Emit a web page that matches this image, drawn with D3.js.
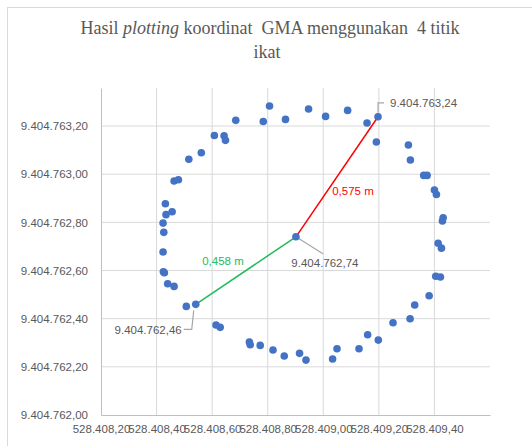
<!DOCTYPE html>
<html>
<head>
<meta charset="utf-8">
<script src="https://cdn.jsdelivr.net/npm/d3@7"></script>
<style>
  body { margin: 0; background: #fff; }
</style>
</head>
<body>
<div id="chart"></div>
<script>
// easting / northing of the measured points (UTM, metres)
var eastings = [
  528408.8065, 528408.685, 528408.784, 528408.608, 528408.643, 528408.648,
  528408.561, 528408.516, 528408.463, 528408.4786, 528408.4317, 528408.434,
  528408.456, 528408.4234, 528408.426, 528408.4234, 528408.4245, 528408.428,
  528408.440, 528408.463, 528408.507, 528408.541, 528408.614, 528408.629,
  528408.734, 528408.737, 528408.773, 528408.819, 528408.8595, 528408.9146,
  528408.9377, 528409.0335, 528409.0494, 528409.1286, 528409.1597, 528409.198,
  528409.251, 528409.3124, 528409.329, 528409.381, 528409.4047, 528409.4216,
  528409.4133, 528409.4252, 528409.4314, 528409.4288, 528409.400, 528409.4072,
  528409.3614, 528409.3737, 528409.3135, 528409.3063, 528409.191, 528409.197,
  528409.1575, 528409.0876, 528409.0083, 528408.947, 528408.864, 528408.9016
]
var northings = [
  9404763.283, 9404763.2236, 9404763.219, 9404763.161, 9404763.160, 9404763.1405,
  9404763.089, 9404763.062, 9404762.9716, 9404762.977, 9404762.877, 9404762.832,
  9404762.844, 9404762.797, 9404762.7586, 9404762.677, 9404762.595, 9404762.591,
  9404762.545, 9404762.534, 9404762.451, 9404762.4596, 9404762.3737, 9404762.364,
  9404762.303, 9404762.292, 9404762.289, 9404762.270, 9404762.245, 9404762.256,
  9404762.228, 9404762.2325, 9404762.275, 9404762.275, 9404762.333, 9404762.311,
  9404762.383, 9404762.400, 9404762.4567, 9404762.495, 9404762.576, 9404762.573,
  9404762.713, 9404762.693, 9404762.819, 9404762.8055, 9404762.934, 9404762.916,
  9404762.995, 9404762.995, 9404763.0588, 9404763.121, 9404763.1335, 9404763.2385,
  9404763.2124, 9404763.265, 9404763.240, 9404763.2705, 9404763.2277, 9404762.740
]

// centre point and the two radius segments
var centre = [528408.9016, 9404762.740]
var farPoint = [528409.197, 9404763.2385]
var nearPoint = [528408.541, 9404762.4596]
var segLabels = ["0,575 m", "0,458 m"]

var xTicks = [528408.2, 528408.4, 528408.6, 528408.8, 528409.0, 528409.2, 528409.4]
var yTicks = [9404762.0, 9404762.2, 9404762.4, 9404762.6, 9404762.8, 9404763.0, 9404763.2]

var idLocale = d3.formatLocale({ decimal: ",", thousands: ".", grouping: [3], currency: ["", ""] })
var fmt = idLocale.format(",.2f")

var width = 532, height = 446
var margin = { top: 88, right: 42, bottom: 31, left: 101 }

var svg = d3.select("#chart").append("svg")
  .attr("width", width)
  .attr("height", height)

// chart border (only left and top edges fall inside the picture)
svg.append("rect")
  .attr("x", 7.5).attr("y", 7.5)
  .attr("width", width).attr("height", height)
  .attr("fill", "none")
  .attr("stroke", "#d9d9d9")

var x = d3.scaleLinear()
  .domain([528408.2, 528409.6])
  .range([margin.left, width - margin.right])

var y = d3.scaleLinear()
  .domain([9404762.0, 9404763.358])
  .range([height - margin.bottom, margin.top])

// gridlines
svg.append("g")
  .selectAll("line")
  .data(xTicks.slice(1))
  .enter().append("line")
  .attr("x1", d => x(d)).attr("x2", d => x(d))
  .attr("y1", y.range()[1]).attr("y2", y.range()[0])
  .attr("stroke", "#d9d9d9")

svg.append("g")
  .selectAll("line")
  .data(yTicks.slice(1))
  .enter().append("line")
  .attr("x1", x.range()[0]).attr("x2", x.range()[1])
  .attr("y1", d => y(d)).attr("y2", d => y(d))
  .attr("stroke", "#d9d9d9")

var xAxis = svg.append("g")
  .attr("transform", `translate(0,${y.range()[0]})`)
  .call(d3.axisBottom(x).tickValues(xTicks).tickFormat(fmt).tickSize(0).tickPadding(10))

var yAxis = svg.append("g")
  .attr("transform", `translate(${x.range()[0]},0)`)
  .call(d3.axisLeft(y).tickValues(yTicks).tickFormat(fmt).tickSize(0).tickPadding(13))

svg.selectAll(".domain").attr("stroke", "#bfbfbf")
svg.selectAll(".tick text")
  .style("font-family", "'Liberation Sans', Arial, sans-serif")
  .style("font-size", "11.5px")
  .attr("fill", "#595959")

// radius lines
svg.append("line")
  .attr("x1", x(centre[0])).attr("y1", y(centre[1]))
  .attr("x2", x(farPoint[0])).attr("y2", y(farPoint[1]))
  .attr("stroke", "#ff0000")
  .attr("stroke-width", 1.5)

svg.append("line")
  .attr("x1", x(centre[0])).attr("y1", y(centre[1]))
  .attr("x2", x(nearPoint[0])).attr("y2", y(nearPoint[1]))
  .attr("stroke", "#1fba5e")
  .attr("stroke-width", 1.5)

// leader lines for the data labels
var leader = d3.line()
var leaders = [
  [[x(farPoint[0]), y(farPoint[1]) - 4], [x(farPoint[0]), y(farPoint[1]) - 14], [x(farPoint[0]) + 6, y(farPoint[1]) - 14]],
  [[x(centre[0]), y(centre[1])], [x(centre[0]) + 27, y(centre[1]) + 17]],
  [[x(nearPoint[0]) - 2, y(nearPoint[1]) + 6], [x(nearPoint[0]) - 4, y(nearPoint[1]) + 25], [x(nearPoint[0]) - 12, y(nearPoint[1]) + 25]]
]
svg.append("g")
  .selectAll("path")
  .data(leaders)
  .enter().append("path")
  .attr("d", d => leader(d))
  .attr("fill", "none")
  .attr("stroke", "#a6a6a6")
  .attr("stroke-width", 1.2)

// points
svg.append("g")
  .selectAll("circle")
  .data(eastings.map((e, i) => [e, northings[i]]))
  .enter().append("circle")
  .attr("cx", d => x(d[0]))
  .attr("cy", d => y(d[1]))
  .attr("r", 3.8)
  .attr("fill", "#4472c4")

// data labels
var lblFont = "'Liberation Sans', Arial, sans-serif"
svg.append("text")
  .attr("x", x(farPoint[0]) + 12).attr("y", y(farPoint[1]) - 10)
  .style("font-family", lblFont).style("font-size", "11.5px")
  .attr("fill", "#595959")
  .text(fmt(9404763.24))

svg.append("text")
  .attr("x", x(centre[0]) + 29).attr("y", y(centre[1]) + 30)
  .attr("text-anchor", "middle")
  .style("font-family", lblFont).style("font-size", "11.5px")
  .attr("fill", "#595959")
  .text(fmt(9404762.74))

svg.append("text")
  .attr("x", x(nearPoint[0]) - 14).attr("y", y(nearPoint[1]) + 30)
  .attr("text-anchor", "end")
  .style("font-family", lblFont).style("font-size", "11.5px")
  .attr("fill", "#595959")
  .text(fmt(9404762.46))

svg.append("text")
  .attr("x", 353).attr("y", 195)
  .attr("text-anchor", "middle")
  .style("font-family", lblFont).style("font-size", "11.5px")
  .attr("fill", "#ff0000")
  .text(segLabels[0])

svg.append("text")
  .attr("x", 223).attr("y", 265)
  .attr("text-anchor", "middle")
  .style("font-family", lblFont).style("font-size", "11.5px")
  .attr("fill", "#1fba5e")
  .text(segLabels[1])

// title
var title = svg.append("text")
  .attr("x", 270).attr("y", 34)
  .attr("text-anchor", "middle")
  .style("font-family", "'Liberation Serif', 'Times New Roman', serif")
  .style("font-size", "18px")
  .attr("fill", "#595959")
  .attr("xml:space", "preserve")
title.append("tspan").text("Hasil ")
title.append("tspan").style("font-style", "italic").text("plotting")
title.append("tspan").text(" koordinat  GMA menggunakan  4 titik")

svg.append("text")
  .attr("x", 267).attr("y", 58)
  .attr("text-anchor", "middle")
  .style("font-family", "'Liberation Serif', 'Times New Roman', serif")
  .style("font-size", "18px")
  .attr("fill", "#595959")
  .text("ikat")
</script>
</body>
</html>
